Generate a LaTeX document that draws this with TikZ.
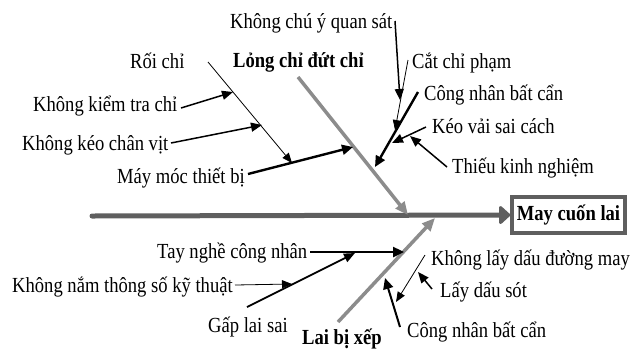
\documentclass[tikz,border=0pt]{standalone}
\usepackage{fontspec}
\setmainfont{Liberation Serif}[FakeStretch=0.865]
\usetikzlibrary{arrows.meta}
\definecolor{spinec}{HTML}{5F5F5F}
\definecolor{bonec}{HTML}{8C8C8C}
\begin{document}
\begin{tikzpicture}[x=1bp,y=-1bp,
  lbl/.style={inner sep=0pt, font=\fontsize{21.5bp}{24bp}\selectfont},
  blbl/.style={inner sep=0pt, font=\fontsize{21.5bp}{24bp}\selectfont\bfseries},
  thickarr/.style={line width=2.4bp, -{Triangle[length=11bp,width=10bp]}},
  medarr/.style={line width=1.5bp, -{Triangle[length=11bp,width=9bp]}},
  thinarr/.style={line width=0.8bp, -{Triangle[length=10bp,width=8bp]}},
  bonearr/.style={bonec, line width=3.5bp, -{Triangle[length=13bp,width=11bp]}},
  spinearr/.style={spinec, line width=5bp, line cap=round, -{Triangle[length=12bp,width=21bp,round]}},
  resbox/.style={draw=spinec, line width=3.5bp, fill=white, minimum width=113bp, minimum height=36bp, inner sep=0pt, font=\fontsize{21.5bp}{24bp}\selectfont\bfseries},
]
\useasboundingbox (0,0) rectangle (632,350);

% texts
\node[lbl, anchor=base west] (tcy) at (230,28) {Không chú ý quan sát};
\node[blbl, anchor=base west] (tlong) at (233,67) {Lỏng chỉ đứt chỉ};
\node[lbl, anchor=base west] (troi) at (130,68) {Rối chỉ};
\node[lbl, anchor=base west] (tcat) at (412,68) {Cắt chỉ phạm};
\node[lbl, anchor=base west] (tkiem) at (33,111) {Không kiểm tra chỉ};
\node[lbl, anchor=base west] (tcn1) at (424,100) {Công nhân bất cẩn};
\node[lbl, anchor=base west] (tkeo) at (432,133) {Kéo vải sai cách};
\node[lbl, anchor=base west] (tchan) at (22,150) {Không kéo chân vịt};
\node[lbl, anchor=base west] (tthieu) at (452,173) {Thiếu kinh nghiệm};
\node[lbl, anchor=base west] (tmay) at (117,183) {Máy móc thiết bị};
\node[resbox] (box) at (568.5,215) {May cuốn lai};
\node[lbl, anchor=base west] (ttay) at (157,258) {Tay nghề công nhân};
\node[lbl, anchor=base west] (tkhl) at (431,265) {Không lấy dấu đường may};
\node[lbl, anchor=base west] (tnam) at (12,292) {Không nắm thông số kỹ thuật};
\node[lbl, anchor=base west] (tsot) at (440,297) {Lấy dấu sót};
\node[lbl, anchor=base west] (tgap) at (208,332) {Gấp lai sai};
\node[lbl, anchor=base west] (tcn2) at (407,337) {Công nhân bất cẩn};
\node[blbl, anchor=base west] (tlai) at (302,344) {Lai bị xếp};

% coordinates
\coordinate (sp1) at (92,216);
\coordinate (g1s) at (298,77); \coordinate (g1e) at (408,215);
\coordinate (m1) at (248,174); \coordinate (m2) at (353,147);
\coordinate (r1) at (208,62); \coordinate (r2) at (292,163);
\coordinate (k1) at (181,108); \coordinate (k2) at (233,92);
\coordinate (kc1) at (171,143); \coordinate (kc2) at (262,125);
\coordinate (cy1) at (395,21); \coordinate (cy2) at (400,100);
\coordinate (cc1) at (408,60); \coordinate (cc2) at (395,130);
\coordinate (cn1) at (418,92); \coordinate (cn2) at (375,167);
\coordinate (kv1) at (426,127); \coordinate (kv2) at (392,143);
\coordinate (tk1) at (447,167); \coordinate (tk2) at (410,136);
\coordinate (g2s) at (338,322); \coordinate (g2e) at (435,218);
\coordinate (tn1) at (310,252); \coordinate (tn2) at (404,252);
\coordinate (gl1) at (247,307); \coordinate (gl2) at (355,253);
\coordinate (kn1) at (235,285); \coordinate (kn2) at (292,284);
\coordinate (kl1) at (425,255); \coordinate (kl2) at (396,302);
\coordinate (ld1) at (432,289); \coordinate (ld2) at (418,272);
\coordinate (cb1) at (400,327); \coordinate (cb2) at (385,278);

% spine
\draw[spinearr] (sp1) -- (box.west);
% bones
\draw[bonearr] (g1s) -- (g1e);
\draw[bonearr] (g2s) -- (g2e);
% upper causes
\draw[thickarr] (m1) -- (m2);
\draw[thinarr] (r1) -- (r2);
\draw[medarr] (k1) -- (k2);
\draw[medarr] (kc1) -- (kc2);
\draw[medarr] (cy1) -- (cy2);
\draw[thinarr] (cc1) -- (cc2);
\draw[thickarr] (cn1) -- (cn2);
\draw[medarr] (kv1) -- (kv2);
\draw[medarr] (tk1) -- (tk2);
% lower causes
\draw[thickarr] (tn1) -- (tn2);
\draw[medarr, line width=1.8bp] (gl1) -- (gl2);
\draw[thinarr] (kn1) -- (kn2);
\draw[thinarr] (kl1) -- (kl2);
\draw[medarr] (ld1) -- (ld2);
\draw[thickarr, line width=2bp] (cb1) -- (cb2);
\end{tikzpicture}
\end{document}
